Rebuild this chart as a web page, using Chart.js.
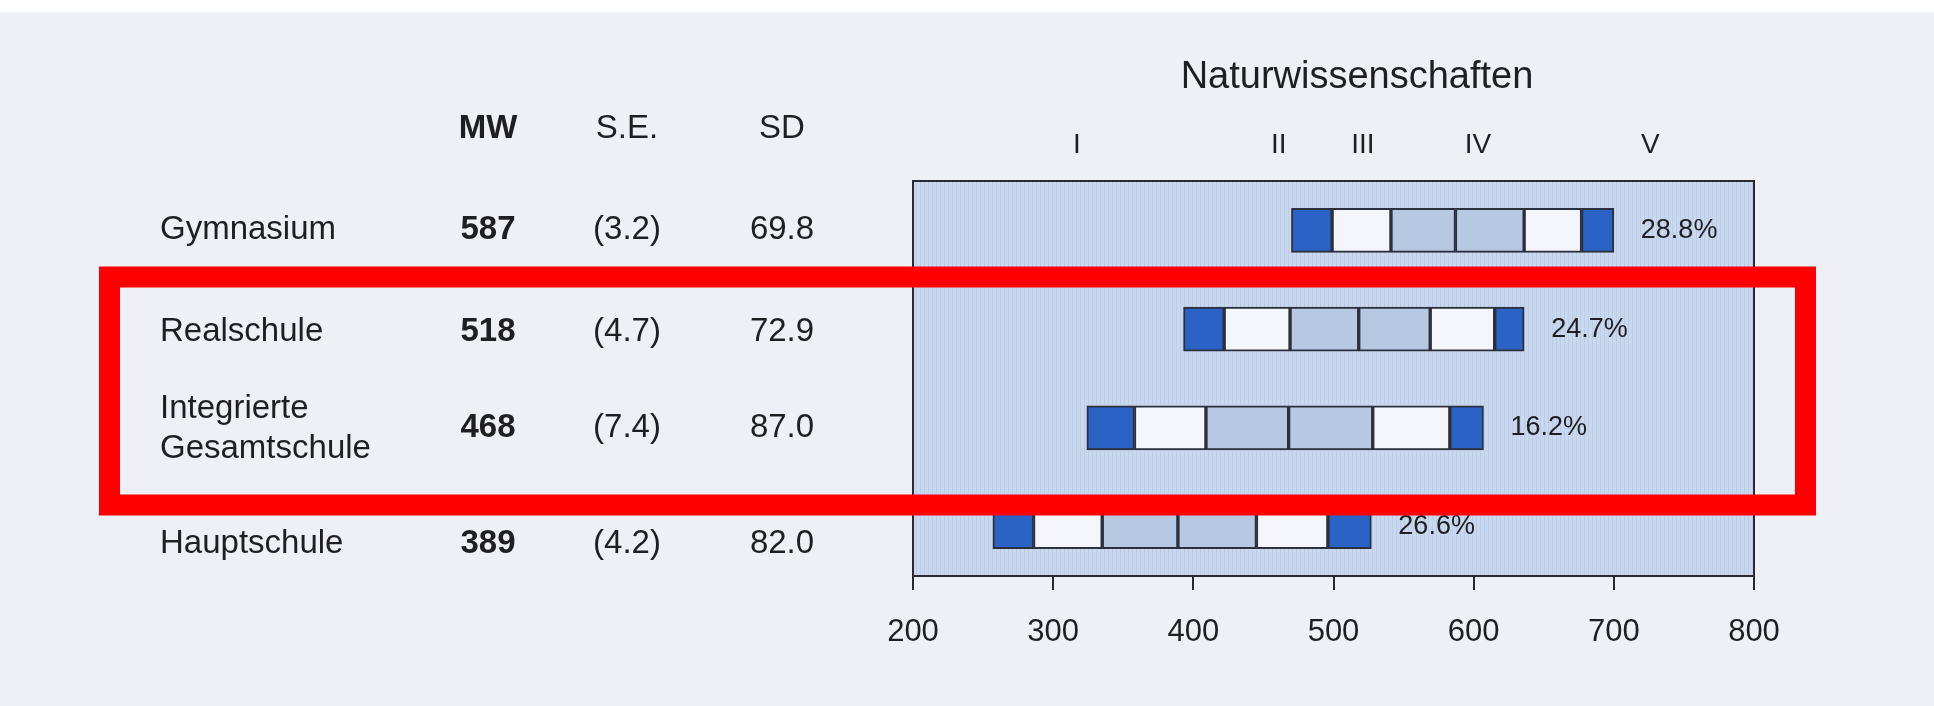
<!DOCTYPE html>
<html>
<head>
<meta charset="utf-8">
<script src="https://cdn.jsdelivr.net/npm/chart.js@4/dist/chart.umd.min.js"></script>
<style>
  html, body { margin: 0; padding: 0; background: #eef0f6; }
  #wrap { width: 1934px; height: 706px; position: relative; }
</style>
</head>
<body>
<div id="wrap"><canvas id="c" width="1934" height="706"></canvas></div>
<script>
// ---- data ----
const categories = ["Gymnasium", "Realschule", "Integrierte Gesamtschule", "Hauptschule"];
const categoryLines = [["Gymnasium"], ["Realschule"], ["Integrierte", "Gesamtschule"], ["Hauptschule"]];
const meanMW = [587, 518, 468, 389];
const seMW = ["(3.2)", "(4.7)", "(7.4)", "(4.2)"];
const sdMW = ["69.8", "72.9", "87.0", "82.0"];
const shareLabels = ["28.8%", "24.7%", "16.2%", "26.6%"];
// percentile boundaries
const p5  = [470, 393, 324, 257];
const p10 = [499, 422, 358, 286];
const p25 = [541, 469, 409, 335];
const p75 = [636, 569, 528, 445];
const p90 = [677, 615, 583, 496];
const p95 = [700, 636, 607, 527];
const levelLabels = ["I", "II", "III", "IV", "V"];
const levelPositions = [317, 461, 521, 603, 726];
const xTicks = [200, 300, 400, 500, 600, 700, 800];
const chartTitle = "Naturwissenschaften";
const headers = ["MW", "S.E.", "SD"];

// ---- build ----
const bounds = [p5, p10, p25, meanMW, p75, p90, p95];
const BLUE = "#2a62c6", WHITE = "#f5f6fb", GREY = "#b7c8e3";
const segColors = [BLUE, WHITE, GREY, GREY, WHITE, BLUE];
const datasets = segColors.map((col, k) => ({
  data: categories.map((_, i) => [bounds[k][i], bounds[k + 1][i]]),
  backgroundColor: col,
  borderColor: "#2c2f3c",
  borderWidth: 2,
  borderSkipped: false,
  barThickness: 44,
  grouped: false
}));

const FONT = "'Liberation Sans', Arial, sans-serif";
const INK = "#1f1f22";

const decor = {
  id: "decor",
  beforeDraw(chart) {
    const ctx = chart.ctx, a = chart.chartArea;
    ctx.save();
    ctx.fillStyle = "#eef0f6";
    ctx.fillRect(0, 0, chart.width, chart.height);
    ctx.fillStyle = "#ffffff";
    ctx.fillRect(0, 0, chart.width, 12);
    // plot background with fine vertical stripes
    const pc = document.createElement("canvas");
    pc.width = 4; pc.height = 4;
    const pctx = pc.getContext("2d");
    pctx.fillStyle = "#c9d8ef";
    pctx.fillRect(0, 0, 4, 4);
    pctx.fillStyle = "#bccde8";
    pctx.fillRect(0, 0, 1, 4);
    ctx.fillStyle = ctx.createPattern(pc, "repeat");
    ctx.fillRect(a.left, a.top, a.right - a.left, a.bottom - a.top);
    ctx.restore();
  },
  afterDraw(chart) {
    const ctx = chart.ctx, a = chart.chartArea;
    const xs = chart.scales.x, ys = chart.scales.y;
    ctx.save();
    // box outline
    ctx.strokeStyle = "#2a2a35";
    ctx.lineWidth = 2;
    ctx.strokeRect(a.left, a.top, a.right - a.left, a.bottom - a.top);

    ctx.fillStyle = INK;
    ctx.textBaseline = "middle";
    // title
    ctx.textAlign = "center";
    ctx.font = "38px " + FONT;
    ctx.fillText(chartTitle, 1357, 78);
    // level numerals
    ctx.font = "28px " + FONT;
    levelLabels.forEach((t, i) => ctx.fillText(t, xs.getPixelForValue(levelPositions[i]), 145));

    // table header
    const colX = [488, 627, 782];
    ctx.font = "bold 33px " + FONT;
    ctx.fillText(headers[0], colX[0], 129);
    ctx.font = "33px " + FONT;
    ctx.fillText(headers[1], colX[1], 129);
    ctx.fillText(headers[2], colX[2], 129);

    categories.forEach((c, i) => {
      const y = ys.getPixelForValue(i) + (i === 3 ? 17 : (i === 1 ? 3 : 0));
      const lines = categoryLines[i];
      ctx.textAlign = "left";
      ctx.font = "33px " + FONT;
      if (lines.length === 1) ctx.fillText(lines[0], 160, y);
      else { ctx.fillText(lines[0], 160, y - 19); ctx.fillText(lines[1], 160, y + 21); }
      ctx.textAlign = "center";
      ctx.font = "bold 33px " + FONT;
      ctx.fillText(String(meanMW[i]), colX[0], y);
      ctx.font = "33px " + FONT;
      ctx.fillText(seMW[i], colX[1], y);
      ctx.fillText(sdMW[i], colX[2], y);
      // share label right of bar
      ctx.textAlign = "left";
      ctx.font = "27px " + FONT;
      ctx.fillText(shareLabels[i], xs.getPixelForValue(p95[i]) + 27, ys.getPixelForValue(i));
    });

    // red highlight frame (annotation in the reference image)
    ctx.strokeStyle = "#ff0000";
    ctx.lineWidth = 21;
    ctx.strokeRect(109.5, 277, 1696, 228);
    ctx.restore();
  }
};

new Chart(document.getElementById("c"), {
  type: "bar",
  data: { labels: categories, datasets },
  options: {
    indexAxis: "y",
    responsive: false,
    animation: false,
    devicePixelRatio: 1,
    layout: { padding: { left: 913, right: 180, top: 181, bottom: 0 } },
    plugins: { legend: { display: false }, tooltip: { enabled: false } },
    scales: {
      x: {
        type: "linear",
        min: xTicks[0],
        max: xTicks[xTicks.length - 1],
        afterBuildTicks(axis) { axis.ticks = xTicks.map(v => ({ value: v })); },
        afterFit(axis) { axis.height = 130; },
        ticks: { color: INK, font: { family: FONT, size: 31 }, padding: 24, maxRotation: 0 },
        grid: { drawOnChartArea: false, drawTicks: true, tickLength: 14, color: "#2a2a35", lineWidth: 2 },
        border: { display: true, color: "#2a2a35", width: 2 }
      },
      y: { display: false }
    }
  },
  plugins: [decor]
});
</script>
</body>
</html>
